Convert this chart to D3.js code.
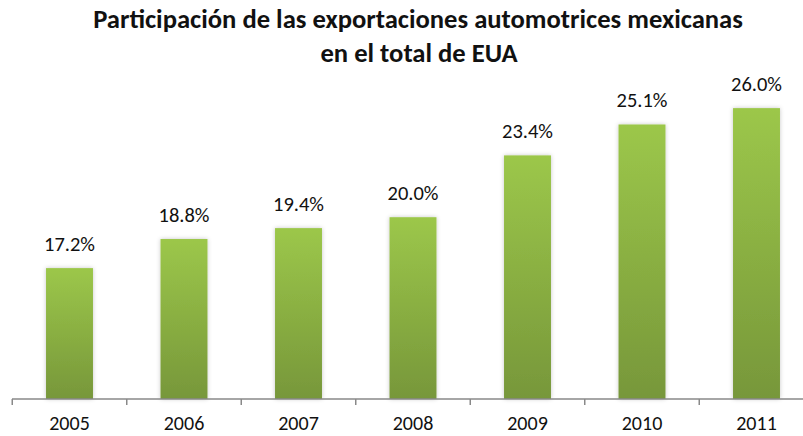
<!DOCTYPE html>
<html><head><meta charset="utf-8">
<script src="https://cdn.jsdelivr.net/npm/d3@7"></script>
<style>
html,body{margin:0;padding:0;background:#fff;}
svg{display:block;}
</style>
</head><body>
<div id="chart"></div>
<script>
const categories = ["2005","2006","2007","2008","2009","2010","2011"];
const values = [17.2, 18.8, 19.4, 20.0, 23.4, 25.1, 26.0];
const valueLabels = ["17.2%","18.8%","19.4%","20.0%","23.4%","25.1%","26.0%"];
const titleLines = ["Participación de las exportaciones automotrices mexicanas","en el total de EUA"];
const yDomain = [10, 30];

const W = 803, H = 436;
const font = "Carlito, Calibri, 'Open Sans', sans-serif";
const svg = d3.select("#chart").append("svg").attr("width", W).attr("height", H);

function fitSize(str, weight, targetW) {
  const t = svg.append("text").attr("font-family", font).attr("font-weight", weight)
    .attr("font-size", 20).text(str);
  const l = t.node().getComputedTextLength();
  t.remove();
  return 20 * targetW / l;
}

const defs = svg.append("defs");
const grad = defs.append("linearGradient").attr("id","barGrad").attr("x1",0).attr("y1",0).attr("x2",0).attr("y2",1);
grad.append("stop").attr("offset","0%").attr("stop-color","#9cc74a");
grad.append("stop").attr("offset","100%").attr("stop-color","#77973a");
const filt = defs.append("filter").attr("id","shadow").attr("x","-20%").attr("y","-5%").attr("width","140%").attr("height","110%");
filt.append("feDropShadow").attr("dx",0).attr("dy",0).attr("stdDeviation",2).attr("flood-color","#000").attr("flood-opacity",0.22);

const baseY = 399;
const x = d3.scaleBand().domain(categories).range([12.25, 813.75]).paddingInner(0.59).paddingOuter(0.295);
const y = d3.scaleLinear().domain(yDomain).range([baseY, baseY - 363.6]);

// Bars
svg.append("g").selectAll("rect").data(values).join("rect")
  .attr("x", (d,i) => x(categories[i]))
  .attr("y", d => y(d))
  .attr("width", x.bandwidth())
  .attr("height", d => baseY - y(d))
  .attr("fill", "url(#barGrad)")
  .attr("filter", "url(#shadow)");

// Value labels
const valFs = fitSize(valueLabels[0], "normal", 51);
svg.append("g").selectAll("text").data(values).join("text")
  .attr("x", (d,i) => x(categories[i]) + x.bandwidth()/2)
  .attr("y", d => y(d) - 17)
  .attr("text-anchor","middle")
  .attr("font-family", font)
  .attr("font-size", valFs)
  .attr("fill","#111")
  .text((d,i) => valueLabels[i]);

// X axis
const step = x.step();
const axisG = svg.append("g").attr("transform", `translate(0,${baseY})`);
axisG.append("line").attr("x1", 12).attr("x2", W).attr("y1", 0).attr("y2", 0)
  .attr("stroke","#898989").attr("stroke-width",1.5);
const boundaries = categories.map(c => x(c) - (step - x.bandwidth())/2);
axisG.selectAll("line.tick").data(boundaries).join("line").attr("class","tick")
  .attr("x1", d => d).attr("x2", d => d).attr("y1", 0).attr("y2", 6)
  .attr("stroke","#898989").attr("stroke-width",1.5);
const tickFs = Math.min(20, fitSize(categories[0], "normal", 42));
axisG.selectAll("text").data(categories).join("text")
  .attr("x", d => x(d) + x.bandwidth()/2)
  .attr("y", 31)
  .attr("text-anchor","middle")
  .attr("font-family", font)
  .attr("font-size", tickFs)
  .attr("fill","#111")
  .text(d => d);

// Title
const titleFs = fitSize(titleLines[0], "bold", 650);
svg.append("text").attr("x", 418).attr("y", 28).attr("text-anchor","middle")
  .attr("font-family", font).attr("font-weight","bold").attr("font-size", titleFs).attr("fill","#111")
  .text(titleLines[0]);
svg.append("text").attr("x", 419).attr("y", 62).attr("text-anchor","middle")
  .attr("font-family", font).attr("font-weight","bold").attr("font-size", titleFs).attr("fill","#111")
  .text(titleLines[1]);
</script>
</body></html>
